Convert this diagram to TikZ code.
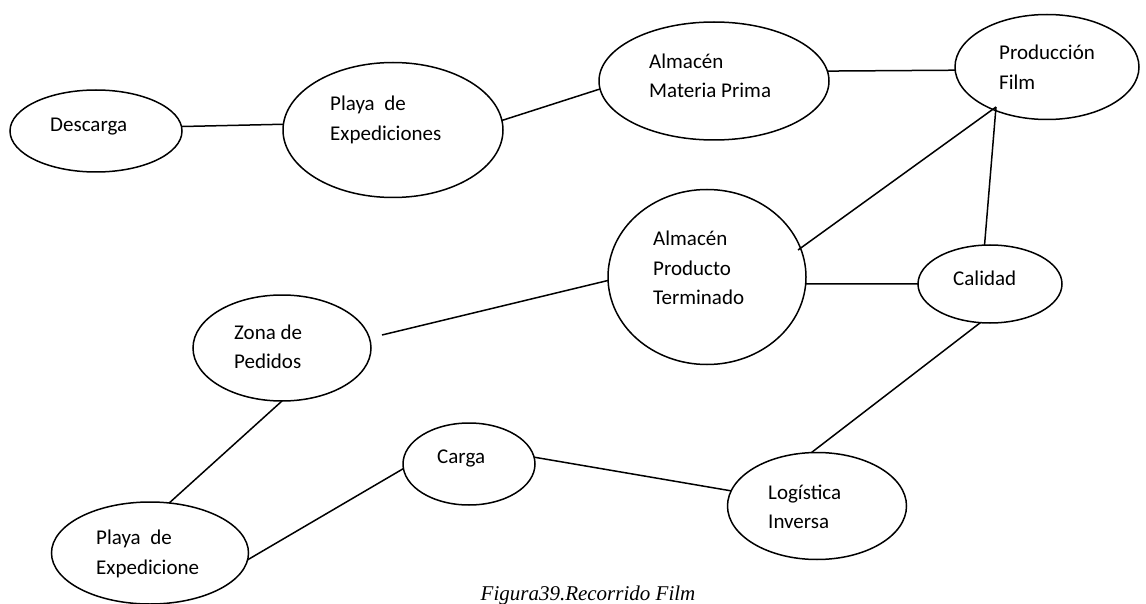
\documentclass[tikz,border=0pt]{standalone}
\usepackage{fontspec}
\setmainfont{Carlito}
\newfontfamily\capfont{Liberation Serif}
\usetikzlibrary{shapes.geometric}
\begin{document}
\begin{tikzpicture}[x=1pt,y=-1pt,
  ell/.style={draw,ellipse,line width=1.5pt,inner sep=0pt,outer sep=0pt},
  lbl/.style={anchor=west,align=left,inner sep=0pt,font=\fontsize{21}{29.5}\selectfont},
  conn/.style={line width=1.5pt}]
\useasboundingbox (0,0) rectangle (1146,604);
% ellipses
\node[ell,minimum width=172pt,minimum height=82pt] (desc) at (96,131) {};
\node[ell,minimum width=220pt,minimum height=135pt] (pe1) at (393,130) {};
\node[ell,minimum width=230pt,minimum height=118pt] (amp) at (714,81) {};
\node[ell,minimum width=184pt,minimum height=105pt] (prod) at (1047,67) {};
\node[ell,minimum width=198pt,minimum height=175pt] (apt) at (707,277) {};
\node[ell,minimum width=144pt,minimum height=78pt] (cal) at (990,284) {};
\node[ell,minimum width=178pt,minimum height=106pt] (zona) at (282,348) {};
\node[ell,minimum width=132pt,minimum height=82pt] (carga) at (469,464) {};
\node[ell,minimum width=197pt,minimum height=102pt] (pe2) at (150,553) {};
\node[ell,minimum width=179pt,minimum height=107pt] (log) at (817,506) {};
% labels
\node[lbl] (tdesc) at (50,127) {Descarga};
\node[lbl] (tpe1) at (330,120) {Playa\ \ de\\Expediciones};
\node[lbl] (tamp) at (649,76) {Almacén\\Materia Prima};
\node[lbl] (tprod) at (999,67) {Producción\\Film};
\node[lbl] (tapt) at (653,268) {Almacén\\Producto\\Terminado};
\node[lbl] (tcal) at (953,278) {Calidad};
\node[lbl] (tzona) at (234,347) {Zona de\\Pedidos};
\node[lbl] (tcarga) at (437,458) {Carga};
\node[lbl] (tpe2) at (96,554) {Playa\ \ de\\Expedicione};
\node[lbl] (tlog) at (768,507) {Logística\\Inversa};
\node[inner sep=0pt,anchor=base,font=\capfont\itshape\fontsize{21}{24}\selectfont] (cap) at (588,600) {Figura39.Recorrido Film};
% free ends
\coordinate (pin) at (996,107);
\coordinate (aptin) at (798,250);
\coordinate (zfree) at (382,335);
% connectors
\draw[conn] (desc.3) -- (pe1.177);
\draw[conn] (pe1.5) -- (amp.184.5);
\draw[conn] (amp.5.5) -- (prod.182);
\draw[conn] (pin) -- (aptin);
\draw[conn] (pin) -- (cal.98.7);
\draw[conn] (apt.356) -- (cal.180);
\draw[conn] (zfree) -- (apt.182.3);
\draw[conn] (zona.270) -- (pe2.69.6);
\draw[conn] (pe2.356.5) -- (carga.184.3);
\draw[conn] (carga.6) -- (log.170.4);
\draw[conn] (cal.256) -- (log.96.5);
\end{tikzpicture}
\end{document}
